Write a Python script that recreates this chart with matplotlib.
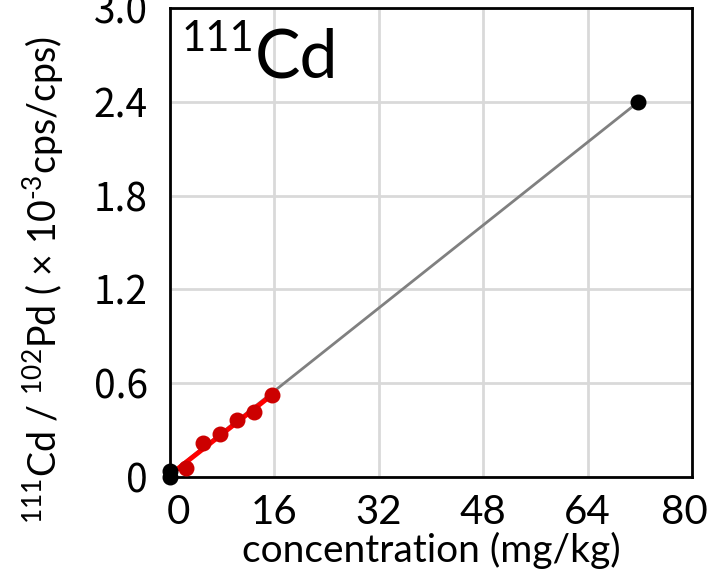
import numpy as np
import matplotlib
matplotlib.use("Agg")
import matplotlib.pyplot as plt
import matplotlib.transforms as mtrans

# ---- data ----
black_x = [0.0, 0.0, 71.8]
black_y = [0.0, 0.04, 2.40]
red_x = [2.4, 5.0, 7.7, 10.3, 12.9, 15.7]
red_y = [0.055, 0.215, 0.275, 0.364, 0.417, 0.524]
x_ticks = [0, 16, 32, 48, 64, 80]
y_ticks = [0, 0.6, 1.2, 1.8, 2.4, 3.0]
y_ticklabels = ["0", "0.6", "1.2", "1.8", "2.4", "3.0"]

plt.rcParams['mathtext.fontset'] = 'custom'
plt.rcParams['mathtext.rm'] = 'Lato'
plt.rcParams['mathtext.it'] = 'Lato:italic'
plt.rcParams['mathtext.bf'] = 'Lato:bold'

fig = plt.figure(figsize=(7.18, 5.77), dpi=100)
ax = fig.add_axes([170/718, 1-477/577, (692-170)/718, (477-8)/577])

ax.set_xlim(0, 80)
ax.set_ylim(0, 3.0)
ax.set_xticks(x_ticks)
ax.set_yticks(y_ticks)
ax.set_yticklabels(y_ticklabels)
ax.grid(True, color='#d9d9d9', linewidth=2)
ax.set_axisbelow(True)
for s in ax.spines.values():
    s.set_linewidth(2)
    s.set_color('black')
ax.tick_params(length=0)
ax.tick_params(axis='x', pad=12, labelsize=29)
ax.tick_params(axis='y', pad=16, labelsize=28)
for lab in ax.get_xticklabels():
    lab.set_fontfamily('Lato')
for lab in ax.get_yticklabels():
    lab.set_fontfamily(['Noto Sans CJK JP', 'DejaVu Sans'])

# gray line through black points
gb = np.polyfit(black_x, black_y, 1)
gx = np.array([min(black_x), max(black_x)])
ax.plot(gx, np.polyval(gb, gx), color='#808080', lw=2, zorder=3, clip_on=False)

# red fit line
rb = np.polyfit(red_x, red_y, 1)
rx = np.array([min(red_x) - 1.2, max(red_x)])
ax.plot(rx, np.polyval(rb, rx), color='#ff0000', lw=3.5, zorder=4)

ax.scatter(red_x, red_y, s=110, color='#cc0000', zorder=5, clip_on=False)
ax.scatter(black_x, black_y, s=110, color='black', zorder=6, clip_on=False)

ax.set_xlabel('concentration (mg/kg)', fontsize=28, family='Lato', labelpad=0)
ax.xaxis.set_label_coords(0.5, -0.118)
ax.set_ylabel('$^{111}$Cd / $^{102}$Pd ( × 10$^{\u2010 3}$cps/cps)', fontsize=27, family='Lato')
ax.yaxis.set_label_coords(-0.2, 0.42)

fig.text(182/718, 1-20/577, '111', fontsize=30, family='Lato', ha='left', va='top')
fig.text(255/718, 1-78/577, 'Cd', fontsize=49, family='Lato', ha='left', va='baseline')

# nudge edge x tick labels inward as in the reference
fig.canvas.draw()
xt = ax.get_xticklabels()
xt[0].set_transform(xt[0].get_transform() + mtrans.ScaledTranslation(8/100, 0, fig.dpi_scale_trans))
xt[-1].set_transform(xt[-1].get_transform() + mtrans.ScaledTranslation(-8/100, 0, fig.dpi_scale_trans))

fig.savefig('out.png', dpi=100)
